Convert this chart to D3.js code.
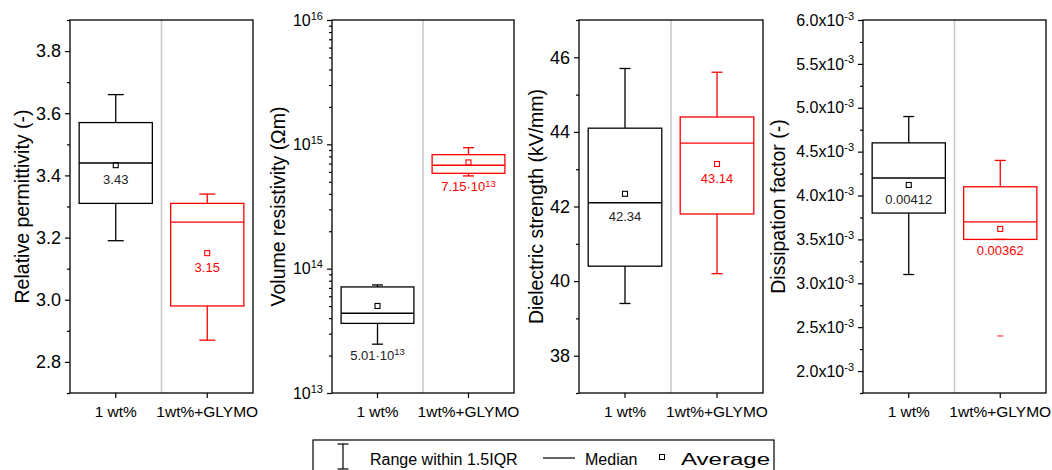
<!DOCTYPE html>
<html lang="en">
<head>
    <meta charset="UTF-8">
    <title>Box charts</title>
    <script src="https://d3js.org/d3.v7.min.js"></script>
    <style>
        body { margin: 0; background: #fff; }
        svg { font-family: "Liberation Sans", Arial, sans-serif; }
        .frame { fill: none; stroke: #000; stroke-width: 1.3px; }
        .divider { stroke: #c8c8c8; stroke-width: 1.5px; }
        .axis path { display: none; }
        .axis line { stroke: #000; stroke-width: 1.2px; }
        .axis text { fill: #000; }
    </style>
</head>
<body>
<div id="chart"></div>

<script>
    // 数据：组别
    const groups = ["1 wt%", "1wt%+GLYMO"];
    const colors = ["#000000", "#ff0000"];

    // 每个面板的箱线统计值（下须, Q1, 中位数, Q3, 上须, 平均值）
    const permittivity = [
        { lo: 3.19, q1: 3.31, median: 3.44, q3: 3.57, hi: 3.66, mean: 3.433 },
        { lo: 2.87, q1: 2.98, median: 3.25, q3: 3.31, hi: 3.34, mean: 3.15 }
    ];
    const resistivity = [
        { lo: 2.47e13, q1: 3.63e13, median: 4.38e13, q3: 7.13e13, hi: 7.4e13, mean: 5.01e13 },
        { lo: 5.57e14, q1: 5.85e14, median: 6.79e14, q3: 8.26e14, hi: 9.4e14, mean: 7.15e14 }
    ];
    const strength = [
        { lo: 39.4, q1: 40.4, median: 42.1, q3: 44.1, hi: 45.7, mean: 42.34 },
        { lo: 40.2, q1: 41.8, median: 43.7, q3: 44.4, hi: 45.6, mean: 43.14 }
    ];
    const dissipation = [
        { lo: 3.1e-3, q1: 3.8e-3, median: 4.2e-3, q3: 4.6e-3, hi: 4.9e-3, mean: 4.12e-3 },
        { lo: 3.5e-3, q1: 3.5e-3, median: 3.7e-3, q3: 4.1e-3, hi: 4.4e-3, mean: 3.62e-3 }
    ];
    const dissipationOutliers = [[], [2.4e-3]];

    // 注释文字（平均值）
    const permittivityLabels = [["3.43"], ["3.15"]];
    const resistivityLabels = [["5.01·10", "13"], ["7.15·10", "13"]];
    const strengthLabels = [["42.34"], ["43.14"]];
    const dissipationLabels = [["0.00412"], ["0.00362"]];

    // 刻度
    const permittivityTicks = [2.8, 3.0, 3.2, 3.4, 3.6, 3.8];
    const permittivityMinor = [2.7, 2.9, 3.1, 3.3, 3.5, 3.7, 3.9];
    const resistivityTicks = [1e13, 1e14, 1e15, 1e16];
    const strengthTicks = [38, 40, 42, 44, 46];
    const strengthMinor = [37, 39, 41, 43, 45, 47];
    const dissipationTicks = [2.0e-3, 2.5e-3, 3.0e-3, 3.5e-3, 4.0e-3, 4.5e-3, 5.0e-3, 5.5e-3, 6.0e-3];
    const dissipationMinor = [1.75e-3, 2.25e-3, 2.75e-3, 3.25e-3, 3.75e-3, 4.25e-3, 4.75e-3, 5.25e-3, 5.75e-3];

    const width = 1052, height = 470;
    const plotTop = 20, plotBottom = 393;

    const svg = d3.select("#chart").append("svg")
        .attr("width", width)
        .attr("height", height);

    // 对数刻度的次刻度：2..9 × 10^n
    const logMinor = [];
    for (let e = 13; e < 16; e++) for (let m = 2; m <= 9; m++) logMinor.push(m * Math.pow(10, e));

    const panels = [
        {
            x0: 70, x1: 253, title: "Relative permittivity (-)", titleX: 22,
            stats: permittivity, labels: permittivityLabels, anchors: ["mean", "mean"],
            y: d3.scaleLinear().domain([2.7, 3.9]).range([plotBottom, plotTop]),
            ticks: permittivityTicks, minor: permittivityMinor,
            fmt: d => [d3.format(".1f")(d)], fontSize: 18, cap: 16
        },
        {
            x0: 332, x1: 514, title: "Volume resistivity (\u03A9m)", titleX: 278,
            stats: resistivity, labels: resistivityLabels, anchors: ["lo", "lo"],
            y: d3.scaleLog().domain([1e13, 1e16]).range([plotBottom, plotTop]),
            ticks: resistivityTicks, minor: logMinor,
            fmt: d => ["10", String(Math.round(Math.log10(d)))], fontSize: 16, cap: 11
        },
        {
            x0: 579, x1: 763, title: "Dielectric strength (kV/mm)", titleX: 536,
            stats: strength, labels: strengthLabels, anchors: ["median", "mean"],
            y: d3.scaleLinear().domain([37, 47]).range([plotBottom, plotTop]),
            ticks: strengthTicks, minor: strengthMinor,
            fmt: d => [String(d)], fontSize: 18, cap: 11
        },
        {
            x0: 863, x1: 1046, title: "Dissipation factor (-)", titleX: 778,
            stats: dissipation, labels: dissipationLabels, anchors: ["mean", "q1"],
            outliers: dissipationOutliers,
            y: d3.scaleLinear().domain([1.75e-3, 6.0e-3]).range([plotBottom, plotTop]),
            ticks: dissipationTicks, minor: dissipationMinor,
            fmt: d => [d3.format(".1f")(d * 1000) + "x10", "-3"], fontSize: 16, cap: 11
        }
    ];

    panels.forEach(p => {
        const g = svg.append("g");
        const x = d3.scaleBand().domain(groups).range([p.x0, p.x1]).paddingInner(0).paddingOuter(0);
        const bw = x.bandwidth() * 0.8;

        // 分隔线
        g.append("line").attr("class", "divider")
            .attr("x1", x(groups[1])).attr("x2", x(groups[1]))
            .attr("y1", plotTop).attr("y2", plotBottom);

        // 次刻度
        g.append("g").attr("class", "axis")
            .attr("transform", `translate(${p.x0},0)`)
            .call(d3.axisLeft(p.y).tickValues(p.minor.filter(v => v >= p.y.domain()[0] && v <= p.y.domain()[1]))
                .tickSize(3).tickFormat(""));

        // 主刻度
        const ya = g.append("g").attr("class", "axis")
            .attr("transform", `translate(${p.x0},0)`)
            .call(d3.axisLeft(p.y).tickValues(p.ticks).tickSize(5).tickPadding(4).tickFormat(""));
        ya.selectAll(".tick text").each(function (d) {
            const t = d3.select(this).style("font-size", p.fontSize + "px");
            const parts = p.fmt(d);
            t.append("tspan").text(parts[0]);
            if (parts[1]) {
                t.append("tspan").attr("dy", "-0.55em").style("font-size", "11px").text(parts[1]);
            }
        });

        // x 轴
        const xa = g.append("g").attr("class", "axis")
            .attr("transform", `translate(0,${plotBottom})`)
            .call(d3.axisBottom(x).tickSize(5).tickPadding(8));
        xa.selectAll(".tick text").style("font-size", "15.5px");

        // 边框
        g.append("rect").attr("class", "frame")
            .attr("x", p.x0).attr("y", plotTop)
            .attr("width", p.x1 - p.x0).attr("height", plotBottom - plotTop);

        // 箱线
        p.stats.forEach((s, i) => {
            const cx = x(groups[i]) + x.bandwidth() / 2;
            const c = colors[i];
            const b = g.append("g").attr("stroke", c).attr("stroke-width", 1.3).attr("fill", "none");

            b.append("line").attr("x1", cx).attr("x2", cx).attr("y1", p.y(s.hi)).attr("y2", p.y(s.q3));
            b.append("line").attr("x1", cx).attr("x2", cx).attr("y1", p.y(s.q1)).attr("y2", p.y(s.lo));
            b.append("line").attr("x1", cx - p.cap / 2).attr("x2", cx + p.cap / 2).attr("y1", p.y(s.hi)).attr("y2", p.y(s.hi));
            b.append("line").attr("x1", cx - p.cap / 2).attr("x2", cx + p.cap / 2).attr("y1", p.y(s.lo)).attr("y2", p.y(s.lo));
            b.append("rect").attr("x", cx - bw / 2).attr("width", bw)
                .attr("y", p.y(s.q3)).attr("height", p.y(s.q1) - p.y(s.q3));
            b.append("line").attr("x1", cx - bw / 2).attr("x2", cx + bw / 2)
                .attr("y1", p.y(s.median)).attr("y2", p.y(s.median));
            b.append("rect").attr("x", cx - 2.5).attr("y", p.y(s.mean) - 2.5)
                .attr("width", 5).attr("height", 5).attr("stroke-width", 1.1);

            if (p.outliers) {
                p.outliers[i].forEach(v => {
                    b.append("line").attr("stroke", "#ff6a6a").attr("stroke-width", 1.6)
                        .attr("x1", cx - 3).attr("x2", cx + 3).attr("y1", p.y(v)).attr("y2", p.y(v));
                });
            }

            // 平均值注释
            const key = p.anchors[i];
            const off = (key === "lo" || key === "q1") ? 11 : 14;
            const ay = key === "median" ? Math.max(p.y(s.median), p.y(s.mean)) : p.y(s[key]);
            const lbl = p.labels[i];
            const t = g.append("text").attr("x", cx).attr("y", ay + off)
                .attr("dy", "0.35em").attr("text-anchor", "middle")
                .style("font-size", "13px").attr("fill", c === "#000000" ? "#222" : c);
            t.append("tspan").text(lbl[0]);
            if (lbl[1]) t.append("tspan").attr("dy", "-0.5em").style("font-size", "9.5px").text(lbl[1]);
        });

        // y 轴标题
        g.append("text")
            .attr("transform", `translate(${p.titleX},${(plotTop + plotBottom) / 2}) rotate(-90)`)
            .attr("text-anchor", "middle").attr("dy", "0.35em")
            .style("font-size", "19.5px").text(p.title);
    });

    // 图例
    const lg = svg.append("g");
    lg.append("rect").attr("x", 313).attr("y", 440).attr("width", 461).attr("height", 60)
        .attr("fill", "none").attr("stroke", "#000").attr("stroke-width", 1.2);
    const ib = lg.append("g").attr("stroke", "#000").attr("stroke-width", 1.2);
    ib.append("line").attr("x1", 343).attr("x2", 343).attr("y1", 444).attr("y2", 469);
    ib.append("line").attr("x1", 337.5).attr("x2", 348.5).attr("y1", 444).attr("y2", 444);
    ib.append("line").attr("x1", 337.5).attr("x2", 348.5).attr("y1", 469).attr("y2", 469);
    lg.append("text").attr("x", 370).attr("y", 459).attr("dy", "0.35em").style("font-size", "16px").text("Range within 1.5IQR");
    lg.append("line").attr("x1", 543).attr("x2", 575).attr("y1", 458).attr("y2", 458)
        .attr("stroke", "#000").attr("stroke-width", 1.2);
    lg.append("text").attr("x", 585).attr("y", 459).attr("dy", "0.35em").style("font-size", "16px").text("Median");
    lg.append("rect").attr("x", 659.5).attr("y", 454.5).attr("width", 5).attr("height", 5)
        .attr("fill", "none").attr("stroke", "#000").attr("stroke-width", 1);
    lg.append("text").attr("x", 681).attr("y", 459).attr("dy", "0.35em").style("font-size", "16px")
        .attr("textLength", 89).attr("lengthAdjust", "spacingAndGlyphs").text("Average");
</script>
</body>
</html>
